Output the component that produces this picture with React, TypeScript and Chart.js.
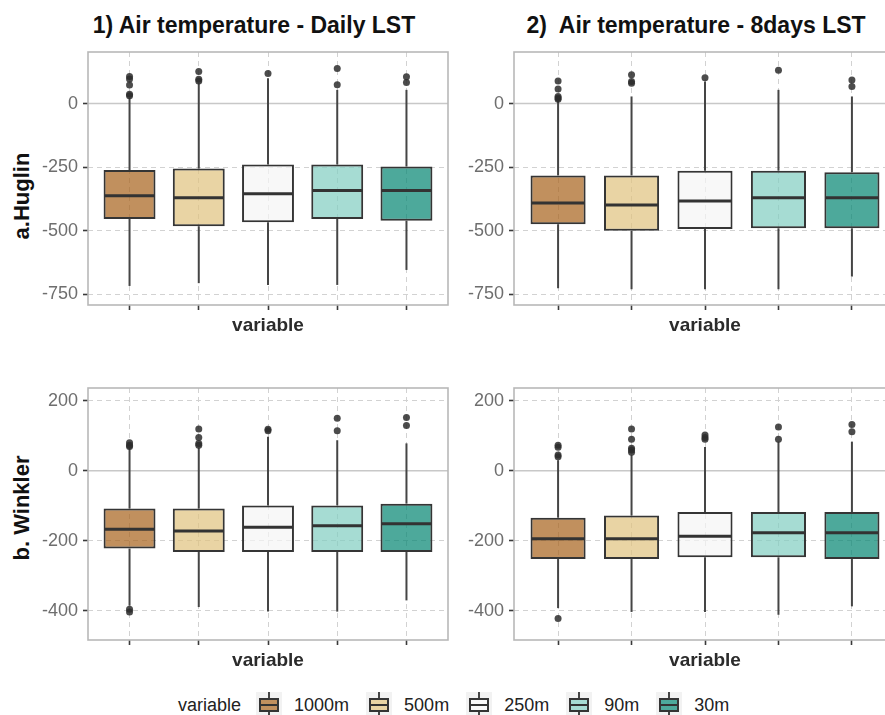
import React, { useEffect, useRef } from "react";
import { Chart, registerables } from "chart.js";

Chart.register(...registerables);

const FONT = "'Liberation Sans', Arial, Helvetica, sans-serif";

// ---------- data ----------
const categories = ["1000m", "500m", "250m", "90m", "30m"];
const fillColors = [
  "rgba(166,97,26,0.7)",
  "rgba(223,194,125,0.7)",
  "rgba(245,245,245,0.7)",
  "rgba(128,205,193,0.7)",
  "rgba(1,133,113,0.7)",
];

const panelTitles = ["1) Air temperature - Daily LST", "2)  Air temperature - 8days LST"];
const rowLabels = ["a.Huglin", "b. Winkler"];

const hugTicks = [-750, -500, -250, 0];
const winTicks = [-400, -200, 0, 200];

// Panel 1: Huglin, daily LST
const p1Low = [-718, -707, -714, -714, -655];
const p1Q1 = [-454, -483, -467, -454, -461];
const p1Median = [-363, -371, -355, -342, -342];
const p1Q3 = [-262, -256, -240, -240, -248];
const p1High = [22, 80, 100, 54, 54];
const p1Outliers = [[31, 37, 73, 97, 107], [89, 96, 126], [118], [74, 138], [83, 106]];

// Panel 2: Huglin, 8days LST
const p2Low = [-727, -731, -731, -731, -681];
const p2Q1 = [-475, -501, -494, -491, -491];
const p2Median = [-391, -399, -384, -371, -371];
const p2Q3 = [-283, -283, -264, -264, -270];
const p2High = [12, 28, 87, 54, 28];
const p2Outliers = [[17, 22, 28, 57, 89], [80, 87, 113], [102], [131], [67, 93]];

// Panel 3: Winkler, daily LST
const p3Low = [-385, -389, -402, -402, -370];
const p3Q1 = [-222, -232, -232, -232, -232];
const p3Median = [-167, -172, -161, -157, -151];
const p3Q3 = [-108, -108, -99, -99, -94];
const p3High = [64, 66, 97, 87, 78];
const p3Outliers = [[-403, -395, 69, 73, 80], [73, 78, 95, 119], [114, 118], [114, 150], [129, 152]];

// Panel 4: Winkler, 8days LST
const p4Low = [-392, -403, -403, -411, -387];
const p4Q1 = [-252, -252, -247, -247, -252];
const p4Median = [-194, -194, -187, -177, -177];
const p4Q3 = [-134, -128, -118, -118, -118];
const p4High = [30, 45, 68, 83, 83];
const p4Outliers = [[-422, 40, 45, 67, 73], [53, 59, 64, 90, 119], [90, 95, 102], [90, 125], [111, 132]];

// ---------- chart ----------
type PanelProps = {
  left: number;
  top: number;
  width: number;
  height: number;
  yMin: number;
  yMax: number;
  yTicks: number[];
  low: number[];
  q1: number[];
  median: number[];
  q3: number[];
  high: number[];
  outliers: number[][];
};

function BoxPanel(p: PanelProps) {
  const ref = useRef<HTMLCanvasElement | null>(null);

  useEffect(() => {
    if (!ref.current) return;
    const xs = categories.map((_, i) => i + 1);

    const extras = {
      id: "boxExtras",
      beforeDatasetsDraw(chart: any) {
        const { ctx, chartArea: a, scales } = chart;
        const y0 = scales.y.getPixelForValue(0);
        ctx.save();
        ctx.strokeStyle = "#c8c8c8";
        ctx.lineWidth = 1.4;
        ctx.beginPath();
        ctx.moveTo(a.left, y0);
        ctx.lineTo(a.right, y0);
        ctx.stroke();
        ctx.strokeStyle = "#b8b8b8";
        ctx.lineWidth = 1.6;
        ctx.strokeRect(a.left, a.top, a.right - a.left, a.bottom - a.top);
        ctx.restore();
      },
      afterDatasetsDraw(chart: any) {
        const { ctx, scales } = chart;
        const meta = chart.getDatasetMeta(1);
        ctx.save();
        ctx.strokeStyle = "#333333";
        ctx.lineWidth = 3;
        meta.data.forEach((bar: any, i: number) => {
          const { x, width } = bar.getProps(["x", "width"], true);
          const ym = scales.y.getPixelForValue(p.median[i]);
          ctx.beginPath();
          ctx.moveTo(x - width / 2 + 1, ym);
          ctx.lineTo(x + width / 2 - 1, ym);
          ctx.stroke();
        });
        ctx.restore();
      },
    };

    const gridCommon = {
      color: "#d2d2d2",
      lineWidth: 1,
      drawTicks: true,
      tickLength: 5,
      tickColor: "#3a3a3a",
      tickWidth: 1.6,
      offset: false,
      borderDash: [5, 4],
    };

    const chart = new Chart(ref.current, {
      type: "bar",
      data: {
        datasets: [
          {
            type: "scatter",
            label: "outliers",
            data: p.outliers.flatMap((arr, i) => arr.map((v) => ({ x: i + 1, y: v }))),
            pointRadius: 3.5,
            pointBackgroundColor: "rgba(45,45,45,0.85)",
            pointBorderWidth: 0,
            order: 1,
          } as any,
          {
            type: "bar",
            label: "box",
            data: xs.map((x, i) => ({ x, y: [p.q1[i], p.q3[i]] })),
            backgroundColor: fillColors,
            borderColor: "#353535",
            borderWidth: 2,
            borderSkipped: false,
            grouped: false,
            barPercentage: 0.75,
            categoryPercentage: 1,
            order: 2,
          } as any,
          {
            type: "bar",
            label: "upper whisker",
            data: xs.map((x, i) => ({ x, y: [p.q3[i], p.high[i]] })),
            backgroundColor: "#454545",
            borderWidth: 0,
            grouped: false,
            maxBarThickness: 2,
            order: 3,
          } as any,
          {
            type: "bar",
            label: "lower whisker",
            data: xs.map((x, i) => ({ x, y: [p.low[i], p.q1[i]] })),
            backgroundColor: "#454545",
            borderWidth: 0,
            grouped: false,
            maxBarThickness: 2,
            order: 3,
          } as any,
        ],
      },
      options: {
        animation: false,
        responsive: false,
        maintainAspectRatio: false,
        layout: { padding: { top: 20, right: 10, left: 0, bottom: 0 } },
        plugins: { legend: { display: false }, tooltip: { enabled: false }, title: { display: false } },
        scales: {
          x: {
            type: "linear",
            min: 0.4,
            max: 5.6,
            offset: false,
            afterBuildTicks: (s: any) => {
              s.ticks = xs.map((v) => ({ value: v }));
            },
            afterFit: (s: any) => {
              s.height = 40;
            },
            ticks: { display: false },
            grid: gridCommon,
            border: { display: false, dash: [5, 4] },
            title: {
              display: true,
              text: "variable",
              color: "#2b2b2b",
              font: { family: FONT, size: 19, weight: "bold" },
              padding: { top: 0, bottom: 7.6 },
            },
          },
          y: {
            type: "linear",
            min: p.yMin,
            max: p.yMax,
            afterBuildTicks: (s: any) => {
              s.ticks = p.yTicks.map((v) => ({ value: v }));
            },
            afterFit: (s: any) => {
              s.width = 58;
            },
            ticks: {
              color: "#6e6e6e",
              font: { family: FONT, size: 18 },
              padding: 5,
              callback: (v: any) => String(v),
            },
            grid: gridCommon,
            border: { display: false, dash: [5, 4] },
          },
        } as any,
      },
      plugins: [extras],
    } as any);

    return () => chart.destroy();
  }, []);

  return (
    <canvas
      ref={ref}
      width={p.width}
      height={p.height}
      style={{ position: "absolute", left: p.left, top: p.top, width: p.width, height: p.height }}
    />
  );
}

function LegendKey({ color }: { color: string }) {
  return (
    <div style={{ position: "relative", width: 26, height: 26, background: "#f2f2f2", flex: "none" }}>
      <div style={{ position: "absolute", left: 12, top: 0, width: 2, height: 26, background: "#454545" }} />
      <div
        style={{
          position: "absolute",
          left: 3,
          top: 6,
          width: 20,
          height: 14,
          boxSizing: "border-box",
          border: "2px solid #353535",
          backgroundColor: "#ffffff",
          backgroundImage: `linear-gradient(${color}, ${color})`,
        }}
      >
        <div style={{ position: "absolute", left: 0, right: 0, top: 4, height: 2, background: "#333" }} />
      </div>
    </div>
  );
}

export default function App() {
  const titleStyle: React.CSSProperties = {
    position: "absolute",
    transform: "translate(-50%, -50%)",
    fontFamily: FONT,
    fontWeight: "bold",
    fontSize: 23,
    color: "#111",
    whiteSpace: "pre",
  };
  const rowStyle: React.CSSProperties = {
    position: "absolute",
    transform: "translate(-50%, -50%) rotate(-90deg)",
    fontFamily: FONT,
    fontWeight: "bold",
    fontSize: 22,
    color: "#111",
    whiteSpace: "pre",
  };

  return (
    <div
      style={{
        position: "absolute",
        left: 0,
        top: 0,
        width: 885,
        height: 715,
        overflow: "hidden",
        background: "#ffffff",
        fontFamily: FONT,
      }}
    >
      <div style={{ ...titleStyle, left: 254, top: 25 }}>{panelTitles[0]}</div>
      <div style={{ ...titleStyle, left: 696, top: 25 }}>{panelTitles[1]}</div>
      <div style={{ ...rowStyle, left: 22, top: 196 }}>{rowLabels[0]}</div>
      <div style={{ ...rowStyle, left: 22, top: 508 }}>{rowLabels[1]}</div>

      <BoxPanel left={30} top={32} width={428} height={313} yMin={-793} yMax={203} yTicks={hugTicks}
        low={p1Low} q1={p1Q1} median={p1Median} q3={p1Q3} high={p1High} outliers={p1Outliers} />
      <BoxPanel left={456} top={32} width={450} height={313} yMin={-793} yMax={203} yTicks={hugTicks}
        low={p2Low} q1={p2Q1} median={p2Median} q3={p2Q3} high={p2High} outliers={p2Outliers} />
      <BoxPanel left={30} top={368} width={428} height={312} yMin={-483} yMax={236} yTicks={winTicks}
        low={p3Low} q1={p3Q1} median={p3Median} q3={p3Q3} high={p3High} outliers={p3Outliers} />
      <BoxPanel left={456} top={368} width={450} height={312} yMin={-483} yMax={236} yTicks={winTicks}
        low={p4Low} q1={p4Q1} median={p4Median} q3={p4Q3} high={p4High} outliers={p4Outliers} />

      <div
        style={{
          position: "absolute",
          left: 178,
          top: 692,
          height: 26,
          display: "flex",
          alignItems: "center",
          fontFamily: FONT,
          fontSize: 18,
          color: "#222",
          whiteSpace: "nowrap",
        }}
      >
        <span style={{ marginRight: 15 }}>variable</span>
        {categories.map((c, i) => (
          <React.Fragment key={c}>
            <LegendKey color={fillColors[i]} />
            <span style={{ marginLeft: 12, marginRight: 17 }}>{c}</span>
          </React.Fragment>
        ))}
      </div>
    </div>
  );
}
